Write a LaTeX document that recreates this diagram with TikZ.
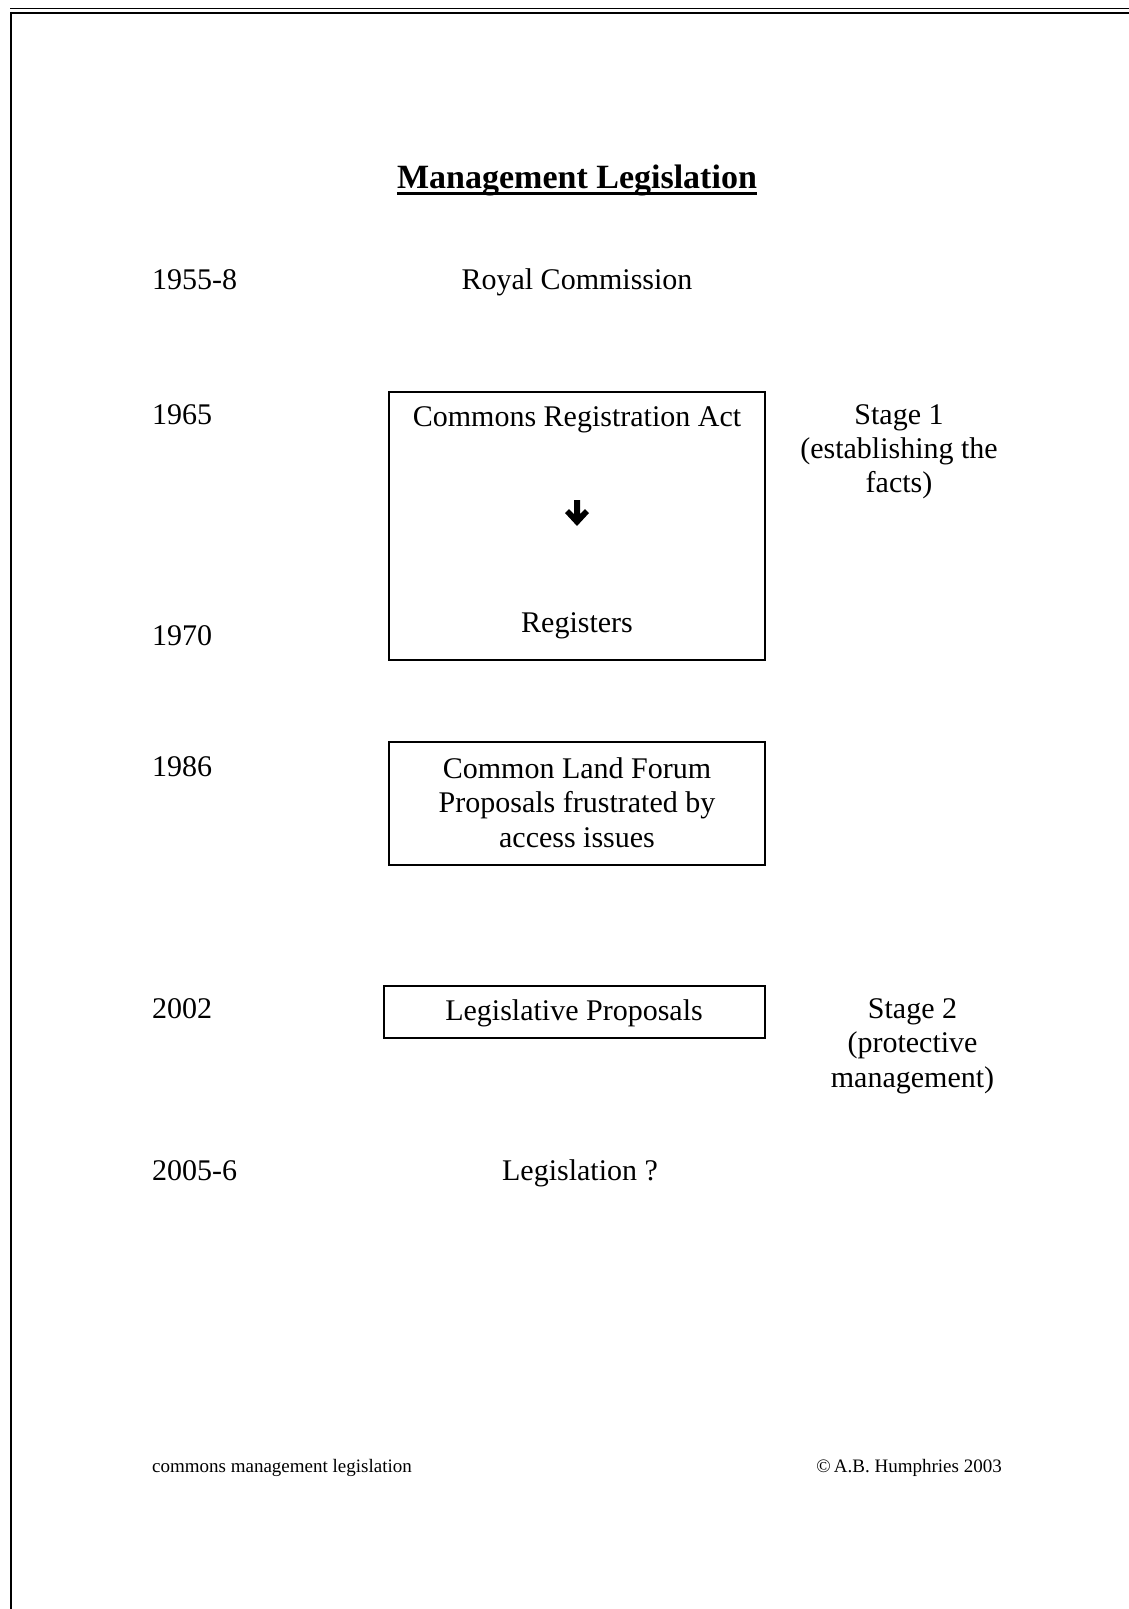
\documentclass[tikz,border=0pt]{standalone}
\usepackage{fontspec}
\setmainfont{Liberation Serif}
\begin{document}
\begin{tikzpicture}[x=1pt,y=-1pt,
  txt/.style={inner sep=0pt,font=\fontsize{30}{34}\selectfont},
  yr/.style={txt,anchor=base west},
  ctr/.style={txt,anchor=base},
  foot/.style={inner sep=0pt,font=\fontsize{19}{22}\selectfont},
  frame/.style={draw=black,line width=1.8pt,inner sep=0pt,fill=none}]
\useasboundingbox[fill=white] (0,0) rectangle (1129,1609);
% page border
\draw[line width=1.1pt] (10,8.4) -- (1129,8.4);
\draw[line width=2.2pt] (10,13) -- (1129,13);
\draw[line width=2.4pt] (11,11.9) -- (11,1609);
% title
\node[inner sep=0pt,anchor=base,font=\fontsize{34}{40}\bfseries\selectfont] (title) at (577,188) {Management Legislation};
\draw[line width=2.3pt] (title.base west) ++(0,5.5) -- ([yshift=-5.5pt]title.base east);
% years
\node[yr] (y1) at (152,289) {1955-8};
\node[yr] (y2) at (152,424) {1965};
\node[yr] (y3) at (152,645) {1970};
\node[yr] (y4) at (152,776) {1986};
\node[yr] (y5) at (152,1018) {2002};
\node[yr] (y6) at (152,1180) {2005-6};
% centre column
\node[ctr] (royal) at (577,289) {Royal Commission};
\node[frame,minimum width=376,minimum height=268] (box1) at (577,526) {};
\node[ctr] (cra) at (577,426) {Commons Registration Act};
\node[ctr] (reg) at (577,632) {Registers};
\fill (574,500) -- (580,500) -- (580,514) -- (585,509) -- (589,513) -- (577,526)
  -- (565,513) -- (569,509) -- (574,514) -- cycle;
\node[frame,minimum width=376,minimum height=123] (box2) at (577,803.5) {};
\node[ctr] (clf1) at (577,778) {Common Land Forum};
\node[ctr] (clf2) at (577,812.5) {Proposals frustrated by};
\node[ctr] (clf3) at (577,847) {access issues};
\node[frame,minimum width=381,minimum height=52] (box3) at (574.5,1012) {};
\node[ctr] (lp) at (574,1020) {Legislative Proposals};
\node[ctr] (leg) at (580,1180) {Legislation ?};
% stages
\node[ctr] (s1a) at (899,424) {Stage 1};
\node[ctr] (s1b) at (899,458.5) {(establishing the};
\node[ctr] (s1c) at (899,492) {facts)};
\node[ctr] (s2a) at (912.5,1018) {Stage 2};
\node[ctr] (s2b) at (912.5,1052.5) {(protective};
\node[ctr] (s2c) at (912.5,1087) {management)};
% footer
\node[foot,anchor=base west] (fl) at (152,1472) {commons management legislation};
\node[foot,anchor=base east] (fr) at (1002,1472) {\textcopyright\,A.B. Humphries 2003};
\end{tikzpicture}
\end{document}
